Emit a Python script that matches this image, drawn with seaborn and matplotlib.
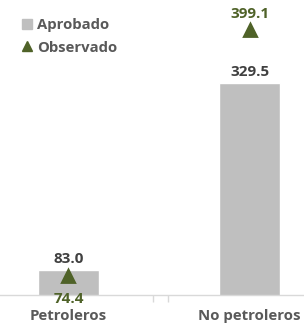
import matplotlib
matplotlib.use("Agg")
import matplotlib.pyplot as plt
import seaborn as sns
import pandas as pd
from matplotlib.lines import Line2D

categories = ["Petroleros", "No petroleros"]
aprobado = [83.0, 329.5]
observado = [74.4, 399.1]

bar_color = "#BFBFBF"
green = "#4F6228"
text_gray = "#404040"

sns.set_theme(style="white")
plt.rcParams["font.family"] = ["Open Sans", "DejaVu Sans"]

df = pd.DataFrame({"cat": categories, "aprobado": aprobado, "observado": observado})

fig = plt.figure(figsize=(3.04, 3.29), dpi=100)
ax = fig.add_axes([0, 1 - 295 / 329, 1, 295 / 329])

sns.barplot(data=df, x="cat", y="aprobado", color=bar_color, width=0.34,
            saturation=1, ax=ax)
sns.pointplot(data=df, x="cat", y="observado", color=green, markers="^",
              linestyle="none", markersize=9, ax=ax)

for i, v in enumerate(aprobado):
    ax.annotate(f"{v:.1f}", (i, v), xytext=(0, 3), textcoords="offset points",
                ha="center", va="bottom", fontsize=11, fontweight="bold",
                color=text_gray)
for i, v in enumerate(observado):
    if v < aprobado[i]:
        ax.annotate(f"{v:.1f}", (i, v), xytext=(0, -11), textcoords="offset points",
                    ha="center", va="top", fontsize=11, fontweight="bold",
                    color=green)
    else:
        ax.annotate(f"{v:.1f}", (i, v), xytext=(0, 6.5), textcoords="offset points",
                    ha="center", va="bottom", fontsize=11, fontweight="bold",
                    color=green)

ax.set_ylim(50, 439)
ax.set_xlim(-0.378, 1.301)
ax.set_xlabel("")
ax.set_ylabel("")
ax.set_yticks([])
for s in ["top", "right", "left"]:
    ax.spines[s].set_visible(False)
ax.spines["bottom"].set_color("#D9D9D9")
ax.spines["bottom"].set_linewidth(1)
ax.tick_params(axis="x", length=0, pad=10, labelsize=10.8, labelcolor="#595959")
for lbl in ax.get_xticklabels():
    lbl.set_fontweight("bold")
ax.set_xticks([0.467, 0.55], minor=True)
ax.tick_params(axis="x", which="minor", length=5, color="#D9D9D9", width=1, bottom=True)

handles = [
    Line2D([], [], marker="s", linestyle="none", color=bar_color, markersize=7),
    Line2D([], [], marker="^", linestyle="none", color=green, markersize=7),
]
leg = ax.legend(handles, ["Aprobado", "Observado"], loc="upper left",
                bbox_to_anchor=(0.035, 0.97), frameon=False, handletextpad=0.15,
                handlelength=1.0, labelspacing=0.6, borderaxespad=0.2,
                prop={"weight": "bold", "size": 10.7})
for t in leg.get_texts():
    t.set_color("#595959")

fig.savefig("out.png", dpi=100)
